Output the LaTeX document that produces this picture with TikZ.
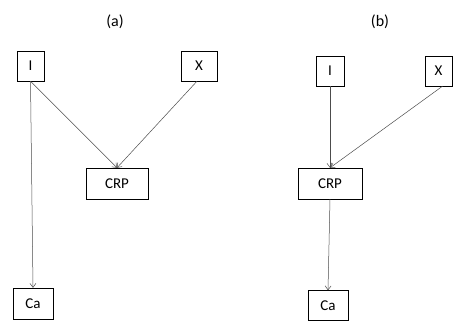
\documentclass[tikz,border=0pt]{standalone}
\usepackage{fontspec}
\setmainfont{Carlito}
\usetikzlibrary{arrows.meta}
\begin{document}
\begin{tikzpicture}[x=1pt,y=-1pt,
		box/.style={draw,thin,inner sep=0pt,minimum height=30pt,font=\fontsize{15}{18}\selectfont},
		arr/.style={-{Straight Barb[length=4pt,width=6pt]},draw=black!70,line width=0.5pt}]
		\useasboundingbox (0,0) rectangle (453,321);
		% labels
		\node (la) at (115,22) {\fontsize{16}{19}\selectfont(a)};
		\node (lb) at (380,22) {\fontsize{16}{19}\selectfont(b)};

		% (a)
		\node[box,minimum width=27pt] (aI) at (30.5,66) {I};
		\node[box,minimum width=36pt] (aX) at (199,66) {X};
		\node[box,minimum width=62pt,minimum height=31pt] (aCRP) at (117,183.5) {CRP};
		\node[box,minimum width=40pt,minimum height=31pt] (aCa) at (33,303.5) {Ca};

		\draw[arr] (aI.south) -- (aCa.north);
		\draw[arr] (aI.south) -- (aCRP.north);
		\draw[arr] ([xshift=-2pt]aX.south) -- (aCRP.north);

		% (b)
		\node[box,minimum width=28pt] (bI) at (330,71) {I};
		\node[box,minimum width=27pt] (bX) at (438.5,71) {X};
		\node[box,minimum width=64pt,minimum height=31pt] (bCRP) at (330,183.5) {CRP};
		\node[box,minimum width=40pt] (bCa) at (328,305.5) {Ca};

		\draw[arr] (bI.south) -- (bCRP.north);
		\draw[arr] ([xshift=4pt]bX.south) -- (bCRP.north);
		\draw[arr] (bCRP.south) -- (bCa.north);
	\end{tikzpicture}
\end{document}
